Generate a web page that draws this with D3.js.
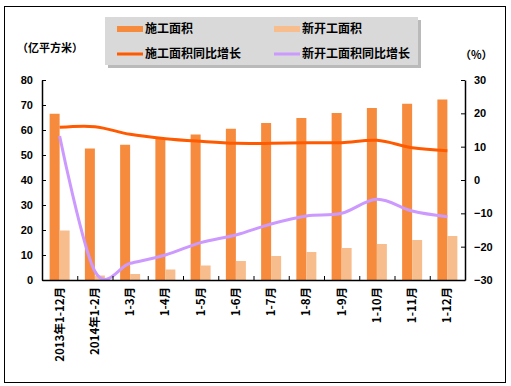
<!DOCTYPE html>
<html>
<head>
<meta charset="utf-8">
<script src="https://cdn.jsdelivr.net/npm/d3@7"></script>
<style>
body { margin: 0; background: #fff; }
text { font-family: "Noto Sans CJK SC", "Liberation Sans", sans-serif; font-weight: bold; fill: #000; }
</style>
</head>
<body>
<script>
// categories and values
var categories = ["2013年1-12月", "2014年1-2月", "1-3月", "1-4月", "1-5月", "1-6月", "1-7月", "1-8月", "1-9月", "1-10月", "1-11月", "1-12月"];
var areaUnder = [66.5, 52.6, 54.1, 56.4, 58.2, 60.5, 62.8, 64.8, 66.8, 68.8, 70.5, 72.2];
var areaNew = [19.8, 1.8, 2.4, 4.2, 5.8, 7.6, 9.6, 11.2, 12.8, 14.4, 16.0, 17.6];
var growthUnder = [15.8, 16.0, 13.7, 12.4, 11.6, 11.0, 11.0, 11.2, 11.2, 11.9, 9.7, 8.8];
var growthNew = [13.2, -27.4, -25.0, -22.5, -18.8, -16.5, -13.2, -10.8, -10.0, -5.8, -9.3, -11.0];
var leftTicks = [0, 10, 20, 30, 40, 50, 60, 70, 80];
var rightTicks = [-30, -20, -10, 0, 10, 20, 30];

var W = 511, H = 386;
// plot edges (named to avoid window.top)
var plotL = 42, plotR = 465, plotT = 80, plotB = 280;

var svg = d3.select("body").append("svg")
.attr("width", W)
.attr("height", H);

// outer border
svg.append("rect")
.attr("x", 4.5).attr("y", 6.5)
.attr("width", 501).attr("height", 376)
.attr("fill", "#fff")
.attr("stroke", "#000")
.attr("stroke-width", 1);

var x = d3.scaleBand()
.domain(categories)
.range([plotL, plotR]);
var bw = x.bandwidth();
var xSub = d3.scaleBand()
.domain(["under", "new"])
.range([(bw - 20) / 2, (bw + 20) / 2]);

var yL = d3.scaleLinear().domain([0, 80]).range([plotB, plotT]);
var yR = d3.scaleLinear().domain([-30, 30]).range([plotB, plotT]);

// bars
var barData = [];
categories.forEach(function(c, i) {
	barData.push({cat: c, key: "under", v: areaUnder[i]});
	barData.push({cat: c, key: "new", v: areaNew[i]});
});
svg.append("g").selectAll("rect")
.data(barData)
.enter().append("rect")
.attr("x", function(d) { return x(d.cat) + xSub(d.key); })
.attr("width", xSub.bandwidth())
.attr("y", function(d) { return yL(d.v); })
.attr("height", function(d) { return yL(0) - yL(d.v); })
.attr("fill", function(d) { return d.key === "under" ? "#F68B3D" : "#F8BD8C"; });

// growth lines
var line = d3.line()
.x(function(d, i) { return x(categories[i]) + bw / 2; })
.y(function(d) { return yR(d); })
.curve(d3.curveCardinal.tension(0));

svg.append("path")
.datum(growthUnder)
.attr("d", line)
.attr("fill", "none")
.attr("stroke", "#FF5A00")
.attr("stroke-width", 3);
svg.append("path")
.datum(growthNew)
.attr("d", line)
.attr("fill", "none")
.attr("stroke", "#CC99FF")
.attr("stroke-width", 3);

// axes
var axL = svg.append("g")
.attr("transform", "translate(" + plotL + ",0)")
.call(d3.axisLeft(yL).tickValues(leftTicks).tickSizeInner(-4).tickSizeOuter(0).tickPadding(9));
var axR = svg.append("g")
.attr("transform", "translate(" + plotR + ",0)")
.call(d3.axisRight(yR).tickValues(rightTicks).tickFormat(function(d) { return d < 0 ? "\u2212" + Math.abs(d) : d; }).tickSizeInner(-4).tickSizeOuter(0).tickPadding(9));
var axB = svg.append("g")
.attr("transform", "translate(0," + plotB + ")")
.call(d3.axisBottom(x).tickSize(0).tickPadding(0));
axB.selectAll("text")
.attr("transform", "rotate(-90)")
.attr("text-anchor", "end")
.attr("x", -7)
.attr("y", 0)
.attr("dy", "0.35em");
// band separators (ticks inside)
svg.append("g").selectAll("line")
.data(categories.slice(1))
.enter().append("line")
.attr("x1", function(d) { return x(d) + 0.5; })
.attr("x2", function(d) { return x(d) + 0.5; })
.attr("y1", plotB)
.attr("y2", plotB - 4)
.attr("stroke", "#000");

[axL, axR, axB].forEach(function(a) {
	a.selectAll("text").style("font-size", "11px").style("font-family", "\"Liberation Sans\", \"Noto Sans CJK SC\", sans-serif").style("font-weight", "bold");
	a.select(".domain").attr("stroke", "#000").attr("stroke-width", 1.5);
});
axB.selectAll("text").style("font-family", "\"Noto Sans CJK SC\", sans-serif").style("font-size", "11.5px");

// axis titles
svg.append("text").attr("x", 17).attr("y", 52).style("font-size", "11px").text("（亿平方米）");
svg.append("text").attr("x", 460).attr("y", 59).style("font-size", "11px").text("（%）");

// legend
svg.append("rect").attr("x", 108).attr("y", 20).attr("width", 313).attr("height", 48).attr("fill", "#8c8c8c").attr("opacity", 0.6);
svg.append("rect").attr("x", 105).attr("y", 17).attr("width", 313).attr("height", 48).attr("fill", "#D9D9D9");
var legendItems = [
	{name: "施工面积", color: "#F68B3D", type: "bar", lx: 117, ly: 29},
	{name: "新开工面积", color: "#F8BD8C", type: "bar", lx: 274, ly: 29},
	{name: "施工面积同比增长", color: "#FF5A00", type: "line", lx: 117, ly: 54},
	{name: "新开工面积同比增长", color: "#CC99FF", type: "line", lx: 274, ly: 54}
];
var lg = svg.append("g").selectAll("g")
.data(legendItems)
.enter().append("g")
.attr("transform", function(d) { return "translate(" + d.lx + "," + d.ly + ")"; });
lg.append("rect")
.attr("x", 0)
.attr("y", function(d) { return d.type === "bar" ? -3 : -1.5; })
.attr("width", 26)
.attr("height", function(d) { return d.type === "bar" ? 6 : 3; })
.attr("fill", function(d) { return d.color; });
lg.append("text")
.attr("x", 28)
.attr("dy", "0.35em")
.style("font-size", "12px")
.text(function(d) { return d.name; });
</script>
</body>
</html>
